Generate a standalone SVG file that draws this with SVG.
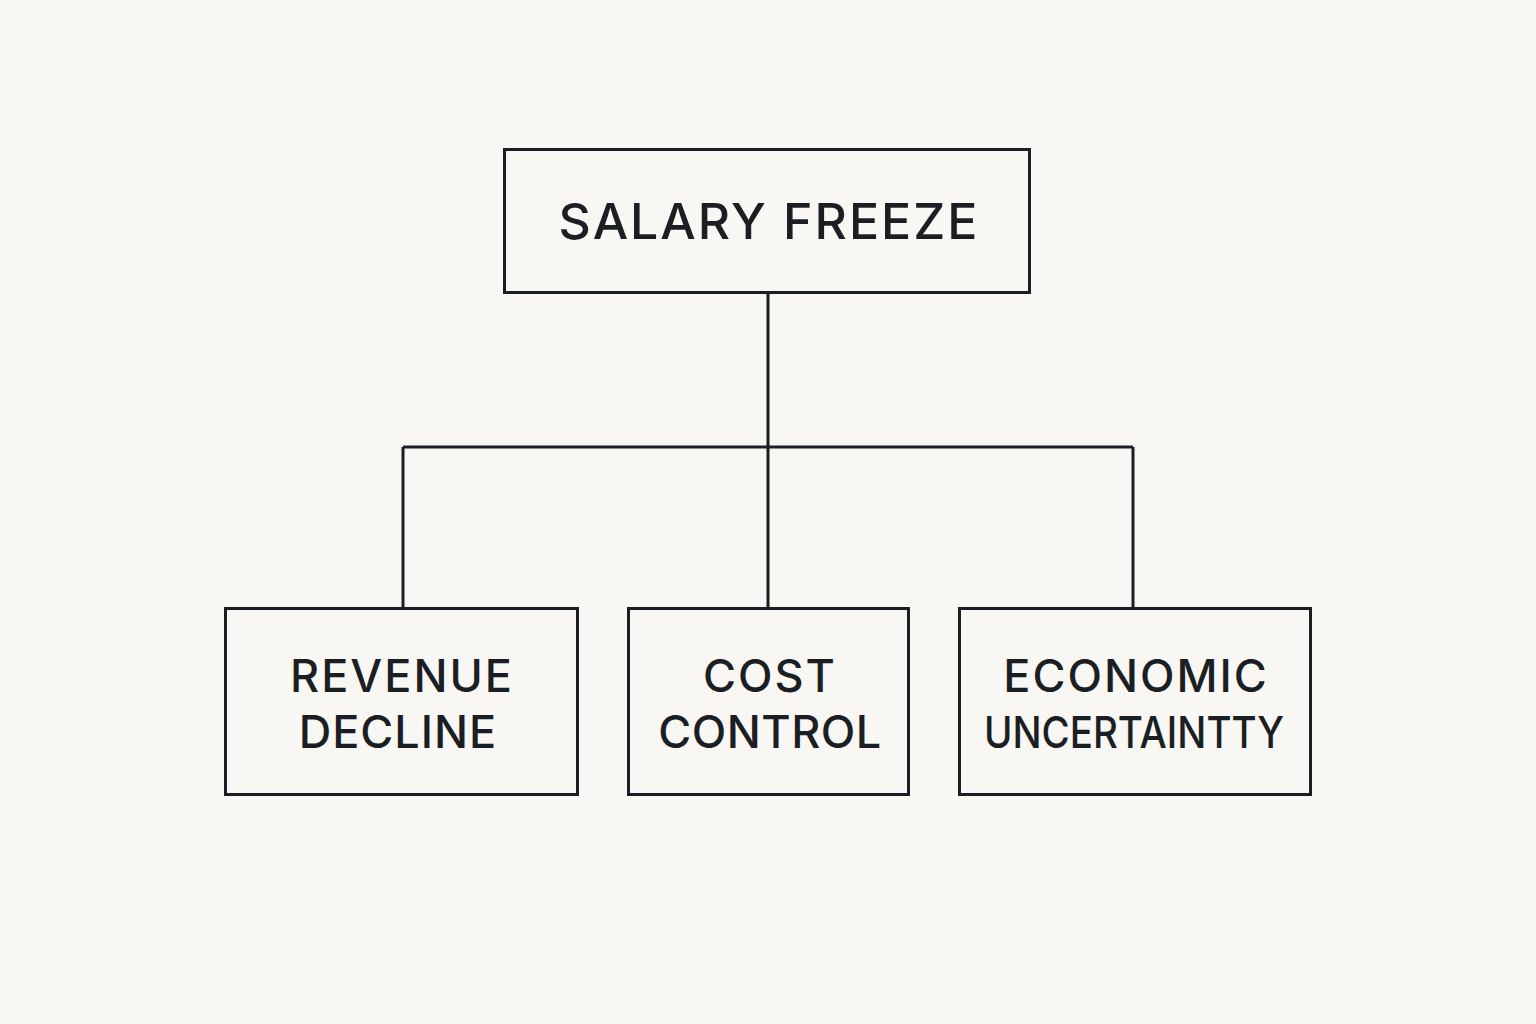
<svg xmlns="http://www.w3.org/2000/svg" width="1536" height="1024" viewBox="0 0 1536 1024">
<style>
.box{fill:#f8f7f3;stroke:#1b1e22;stroke-width:3}
.lbl{font-family:Inter,"Liberation Sans",sans-serif;fill:#1b1e22;text-anchor:middle;font-weight:500}
.conn{fill:none;stroke:#1b1e22;stroke-width:3}
</style>
<rect width="1536" height="1024" fill="#f8f7f3"/>
<g id="connectors">
<path class="conn" d="M768 292 V447 M403 447 H1133 M403 447 V608 M768 447 V608 M1133 447 V608"/>
</g>
<g id="salary-freeze">
<rect class="box" x="504.5" y="149.5" width="525" height="143"/>
<text class="lbl" x="769" y="239" font-size="50" letter-spacing="2">SALARY FREEZE</text>
</g>
<g id="revenue-decline">
<rect class="box" x="225.5" y="608.5" width="352" height="186"/>
<text class="lbl" x="402" y="692" font-size="45" letter-spacing="2">REVENUE</text>
<text class="lbl" x="398" y="748" font-size="45" letter-spacing="1">DECLINE</text>
</g>
<g id="cost-control">
<rect class="box" x="628.5" y="608.5" width="280" height="186"/>
<text class="lbl" x="770" y="692" font-size="45" letter-spacing="2">COST</text>
<text class="lbl" x="770" y="748" font-size="45" letter-spacing="0.5">CONTROL</text>
</g>
<g id="economic-uncertainty">
<rect class="box" x="959.5" y="608.5" width="351" height="186"/>
<text class="lbl" x="1136" y="692" font-size="45" letter-spacing="2">ECONOMIC</text>
<text class="lbl" x="1134" y="748" font-size="44" textLength="300" lengthAdjust="spacingAndGlyphs">UNCERTAINTTY</text>
</g>
</svg>
